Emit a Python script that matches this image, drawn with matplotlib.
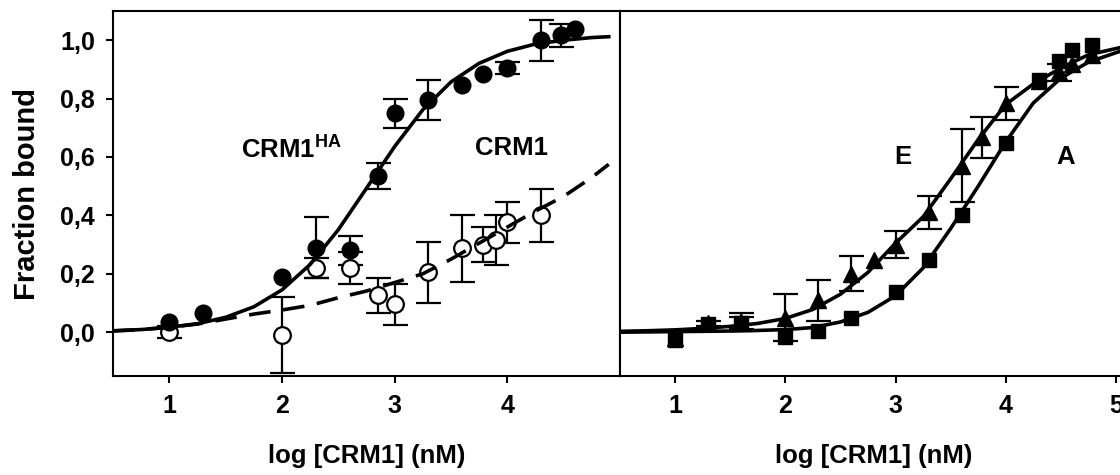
import matplotlib
matplotlib.use("Agg")
import matplotlib.pyplot as plt

plt.rcParams['font.family'] = ['Liberation Sans', 'DejaVu Sans']
plt.rcParams['font.weight'] = 'bold'
plt.rcParams['mathtext.fontset'] = 'custom'
plt.rcParams['mathtext.rm'] = 'Liberation Sans'
plt.rcParams['mathtext.bf'] = 'Liberation Sans:bold'

# ---- left panel: CRM1HA (filled) and CRM1 (open) ----
ha_x = [1.0, 1.3, 2.0, 2.3, 2.6, 2.85, 3.0, 3.3, 3.6, 3.78, 4.0, 4.3, 4.48, 4.6]
ha_y = [0.035, 0.065, 0.19, 0.29, 0.28, 0.535, 0.75, 0.795, 0.846, 0.884, 0.904, 1.0, 1.017, 1.04]
ha_err = [0, 0, 0, 0.105, 0.05, 0.045, 0.05, 0.07, 0, 0, 0.02, 0.07, 0.04, 0]

wt_x = [1.0, 2.0, 2.3, 2.6, 2.85, 3.0, 3.3, 3.6, 3.78, 3.9, 4.0, 4.3]
wt_y = [0.0, -0.01, 0.22, 0.22, 0.127, 0.096, 0.205, 0.287, 0.30, 0.315, 0.377, 0.40]
wt_err = [0.02, 0.13, 0.035, 0.055, 0.06, 0.07, 0.105, 0.115, 0.06, 0.085, 0.07, 0.09]

# fitted curves
fitL_x = [0.5, 0.75, 1.0, 1.25, 1.5, 1.75, 2.0, 2.25, 2.5, 2.75, 3.0, 3.25, 3.5, 3.75, 4.0, 4.25, 4.5, 4.75, 4.9]
fit_ha = [0.005, 0.009, 0.017, 0.029, 0.051, 0.087, 0.145, 0.232, 0.351, 0.493, 0.636, 0.762, 0.857, 0.921, 0.962, 0.987, 1.0, 1.009, 1.012]
fit_wt = [0.004, 0.009, 0.017, 0.028, 0.045, 0.062, 0.076, 0.092, 0.118, 0.141, 0.17, 0.2, 0.25, 0.305, 0.36, 0.415, 0.465, 0.53, 0.575]

# ---- right panel: E (triangles) and A (squares) ----
e_x = [1.0, 1.3, 1.6, 2.0, 2.3, 2.6, 2.8, 3.0, 3.3, 3.6, 3.78, 4.0, 4.3, 4.48, 4.6, 4.78]
e_y = [-0.02, 0.03, 0.035, 0.05, 0.11, 0.2, 0.247, 0.3, 0.41, 0.57, 0.668, 0.784, 0.86, 0.89, 0.92, 0.95]
e_err = [0, 0.01, 0.03, 0.08, 0.07, 0.06, 0, 0.046, 0.057, 0.125, 0.07, 0.057, 0, 0.03, 0, 0]

a_x = [1.0, 1.3, 1.6, 2.0, 2.3, 2.6, 3.0, 3.3, 3.6, 4.0, 4.3, 4.48, 4.6, 4.78]
a_y = [-0.025, 0.027, 0.032, -0.015, 0.005, 0.048, 0.138, 0.247, 0.40, 0.647, 0.863, 0.93, 0.966, 0.983]
a_err = [0, 0, 0.02, 0, 0, 0, 0, 0, 0, 0, 0, 0, 0, 0]

fitR_x = [0.5, 0.75, 1.0, 1.25, 1.5, 1.75, 2.0, 2.25, 2.5, 2.75, 3.0, 3.25, 3.5, 3.75, 4.0, 4.25, 4.5, 4.75, 5.1]
fit_e = [0.003, 0.005, 0.008, 0.013, 0.02, 0.03, 0.047, 0.078, 0.13, 0.205, 0.305, 0.395, 0.525, 0.66, 0.78, 0.85, 0.905, 0.95, 0.98]
fit_a = [0.0, 0.001, 0.002, 0.003, 0.004, 0.006, 0.009, 0.016, 0.035, 0.068, 0.125, 0.22, 0.355, 0.5, 0.652, 0.785, 0.87, 0.925, 0.97]

fig = plt.figure(figsize=(11.2, 4.75), dpi=100)
y0, h = 99 / 475, 365 / 475
ax = fig.add_axes([113 / 1120, y0, 507 / 1120, h])
# right panel runs past the right edge of the picture, as in the original crop
ax2 = fig.add_axes([620 / 1120, y0, 507 / 1120, h])

def errs(ax, x, y, e):
    xs = [a for a, b in zip(x, e) if b > 0]
    ys = [a for a, b in zip(y, e) if b > 0]
    es = [b for b in e if b > 0]
    ax.errorbar(xs, ys, yerr=es, fmt='none', ecolor='black', elinewidth=1.6,
                capsize=9, capthick=1.6, zorder=2)

# left
errs(ax, ha_x, ha_y, ha_err)
errs(ax, wt_x, wt_y, wt_err)
ax.plot(wt_x, wt_y, 'o', ms=12, mfc='white', mec='black', mew=1.6, zorder=3)
ax.plot(fitL_x, fit_wt, color='black', lw=2.6, ls=(0, (6, 3.5)), zorder=4)
ax.plot(fitL_x, fit_ha, color='black', lw=2.6, zorder=4)
ax.plot(ha_x, ha_y, 'o', ms=12, color='black', zorder=5)
ax.text(2.08, 0.63, r'CRM1$^{\mathbf{HA}}$', fontsize=18.5, ha='center', va='center')
ax.text(4.04, 0.63, 'CRM1', fontsize=18.5, ha='center', va='center')
ax.set_xlim(0.5, 4.9)

# right
errs(ax2, e_x, e_y, e_err)
errs(ax2, a_x, a_y, a_err)
ax2.plot(fitR_x, fit_e, color='black', lw=2.6, zorder=4)
ax2.plot(fitR_x, fit_a, color='black', lw=2.6, zorder=4)
ax2.plot(e_x, e_y, '^', ms=11, color='black', zorder=5)
ax2.plot(a_x, a_y, 's', ms=10, color='black', zorder=5)
ax2.text(3.07, 0.60, 'E', fontsize=18.5, ha='center', va='center')
ax2.text(4.54, 0.60, 'A', fontsize=18.5, ha='center', va='center')
ax2.set_xlim(0.5, 5.1)

for a in (ax, ax2):
    a.set_ylim(-0.15, 1.10)
    a.set_xticks([1, 2, 3, 4, 5])
    a.set_xticklabels(['1', '2', '3', '4', '5'])
    a.tick_params(axis='x', direction='out', length=5, width=1.5, pad=8, labelsize=18)
    a.set_xlabel('log [CRM1] (nM)', fontsize=18.5, fontweight='bold', labelpad=19)
    for s in a.spines.values():
        s.set_linewidth(1.5)

ax.set_xticks([1, 2, 3, 4])
ax.set_yticks([0, 0.2, 0.4, 0.6, 0.8, 1.0])
ax.set_yticklabels(['0,0', '0,2', '0,4', '0,6', '0,8', '1,0'])
ax.tick_params(axis='y', direction='out', length=5, width=1.5, pad=8, labelsize=18)
ax.set_ylabel('Fraction bound', fontsize=21, fontweight='bold', labelpad=14)
ax2.set_yticks([])
ax2.spines['right'].set_visible(False)

plt.savefig('out.png', dpi=100)
